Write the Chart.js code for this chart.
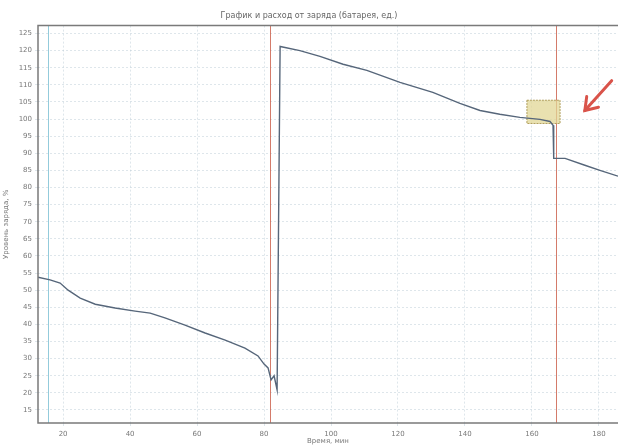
<!DOCTYPE html>
<html>
<head>
<meta charset="utf-8">
<script src="https://cdn.jsdelivr.net/npm/chart.js@4.4.1/dist/chart.umd.min.js"></script>
<style>
  body { margin: 0; background: #fff; }
  #wrap { width: 618px; height: 445px; }
</style>
</head>
<body>
<div id="wrap"><canvas id="levelChart"></canvas></div>
<script>
// Values
const timeValues = [12.5, 16.1, 19.1, 21.5, 25.1, 29.6, 35.5, 41.5, 46.0, 50.4, 56.4, 62.4, 68.4, 74.3, 78.2, 80.0, 81.2, 82.1, 83.0, 83.9,
                    84.8, 90.7, 96.7, 103.6, 110.7, 120.6, 130.4, 138.5, 144.5, 150.4, 156.4, 162.4, 165.4, 166.3,
                    166.5, 169.9, 175.8, 180.3, 185.7];
const levelValues = [53.8, 53.0, 52.1, 50.0, 47.7, 45.9, 44.8, 43.9, 43.3, 41.9, 39.8, 37.5, 35.4, 33.1, 30.8, 28.4, 27.3, 23.8, 25.0, 20.9,
                     121.2, 120.0, 118.3, 116.0, 114.2, 110.7, 107.8, 104.6, 102.5, 101.4, 100.5, 99.9, 99.3, 98.2,
                     88.5, 88.5, 86.5, 85.0, 83.3];
const xTicks = [20, 40, 60, 80, 100, 120, 140, 160, 180];
const yTicks = [15, 20, 25, 30, 35, 40, 45, 50, 55, 60, 65, 70, 75, 80, 85, 90, 95, 100, 105, 110, 115, 120, 125];
// marker lines and annotations (data units)
const redMarkers = [81.8, 167.3];
const blueMarkers = [15.5];
const boxX = [158.5, 168.4];
const boxY = [98.7, 105.5];
const arrowFrom = [183.8, 111.2];
const arrowTo = [175.8, 102.5];

const points = timeValues.map((t, i) => ({ x: t, y: levelValues[i] }));

const extras = {
    id: 'extras',
    beforeDatasetsDraw(chart) {
        const { ctx, chartArea: a, scales: { x, y } } = chart;
        ctx.save();
        ctx.lineWidth = 1;
        ctx.strokeStyle = 'rgba(120,190,210,0.8)';
        blueMarkers.forEach(v => {
            const px = Math.round(x.getPixelForValue(v)) + 0.5;
            ctx.beginPath(); ctx.moveTo(px, a.top); ctx.lineTo(px, a.bottom); ctx.stroke();
        });
        ctx.strokeStyle = 'rgba(205,100,80,0.85)';
        redMarkers.forEach(v => {
            const px = Math.round(x.getPixelForValue(v)) + 0.5;
            ctx.beginPath(); ctx.moveTo(px, a.top); ctx.lineTo(px, a.bottom); ctx.stroke();
        });
        // yellow box
        const bx0 = x.getPixelForValue(boxX[0]), bx1 = x.getPixelForValue(boxX[1]);
        const by0 = y.getPixelForValue(boxY[1]), by1 = y.getPixelForValue(boxY[0]);
        ctx.fillStyle = 'rgba(225,215,150,0.75)';
        ctx.fillRect(bx0, by0, bx1 - bx0, by1 - by0);
        ctx.strokeStyle = 'rgba(170,150,80,0.9)';
        ctx.setLineDash([2, 1]);
        ctx.strokeRect(bx0, by0, bx1 - bx0, by1 - by0);
        ctx.restore();
    },
    afterDatasetsDraw(chart) {
        const { ctx, chartArea: a, scales: { x, y } } = chart;
        ctx.save();
        // frame
        ctx.strokeStyle = '#7a7a7a';
        ctx.lineWidth = 1.5;
        ctx.beginPath();
        ctx.moveTo(a.right, a.top); ctx.lineTo(a.left, a.top); ctx.lineTo(a.left, a.bottom); ctx.lineTo(a.right, a.bottom);
        ctx.stroke();
        // red arrow
        const x0 = x.getPixelForValue(arrowFrom[0]), y0 = y.getPixelForValue(arrowFrom[1]);
        const x1 = x.getPixelForValue(arrowTo[0]), y1 = y.getPixelForValue(arrowTo[1]);
        ctx.strokeStyle = '#d9534a';
        ctx.lineWidth = 3;
        ctx.lineCap = 'round';
        ctx.beginPath(); ctx.moveTo(x0, y0); ctx.lineTo(x1, y1); ctx.stroke();
        const ang = Math.atan2(y1 - y0, x1 - x0);
        ctx.beginPath();
        ctx.moveTo(x1 + 14 * Math.cos(ang - Math.PI + 0.6), y1 + 14 * Math.sin(ang - Math.PI + 0.6));
        ctx.lineTo(x1, y1);
        ctx.lineTo(x1 + 14 * Math.cos(ang - Math.PI - 0.6), y1 + 14 * Math.sin(ang - Math.PI - 0.6));
        ctx.stroke();
        ctx.restore();
    }
};

const ctx = document.getElementById('levelChart').getContext('2d');
new Chart(ctx, {
    type: 'line',
    data: {
        datasets: [{
            label: 'Уровень',
            data: points,
            borderColor: '#56667a',
            borderWidth: 1.4,
            pointRadius: 0,
            tension: 0,
            fill: false
        }]
    },
    options: {
        responsive: true,
        maintainAspectRatio: false,
        animation: false,
        layout: { padding: { left: 0, right: 0, top: 0, bottom: 0 } },
        plugins: {
            legend: { display: false },
            tooltip: { enabled: false },
            title: {
                display: true,
                text: 'График и расход от заряда (батарея, ед.)',
                color: '#666',
                font: { family: 'DejaVu Sans', size: 8, weight: 'normal' },
                padding: { top: 11, bottom: 5 }
            }
        },
        scales: {
            x: {
                type: 'linear',
                min: 12.5,
                max: 185.7,
                afterBuildTicks: s => { s.ticks = xTicks.map(v => ({ value: v })); },
                afterFit: s => { s.height = 22; },
                grid: { color: 'rgba(190,205,215,0.5)', tickLength: 3 },
                border: { display: false, dash: [2, 2] },
                ticks: { color: '#777', font: { family: 'DejaVu Sans', size: 7 }, padding: 4, maxRotation: 0 },
                title: {
                    display: true,
                    text: 'Время, мин',
                    color: '#777',
                    font: { family: 'DejaVu Sans', size: 7 },
                    padding: 0
                }
            },
            y: {
                min: 11.2,
                max: 127.3,
                afterBuildTicks: s => { s.ticks = yTicks.map(v => ({ value: v })); },
                afterFit: s => { s.width = 38; },
                grid: { color: 'rgba(190,205,215,0.5)', tickLength: 3 },
                border: { display: false, dash: [2, 2] },
                ticks: { color: '#777', font: { family: 'DejaVu Sans', size: 7 }, padding: 3 },
                title: {
                    display: true,
                    text: 'Уровень заряда, %',
                    color: '#777',
                    font: { family: 'DejaVu Sans', size: 7 },
                    padding: 2
                }
            }
        }
    },
    plugins: [extras]
});
</script>
</body>
</html>
